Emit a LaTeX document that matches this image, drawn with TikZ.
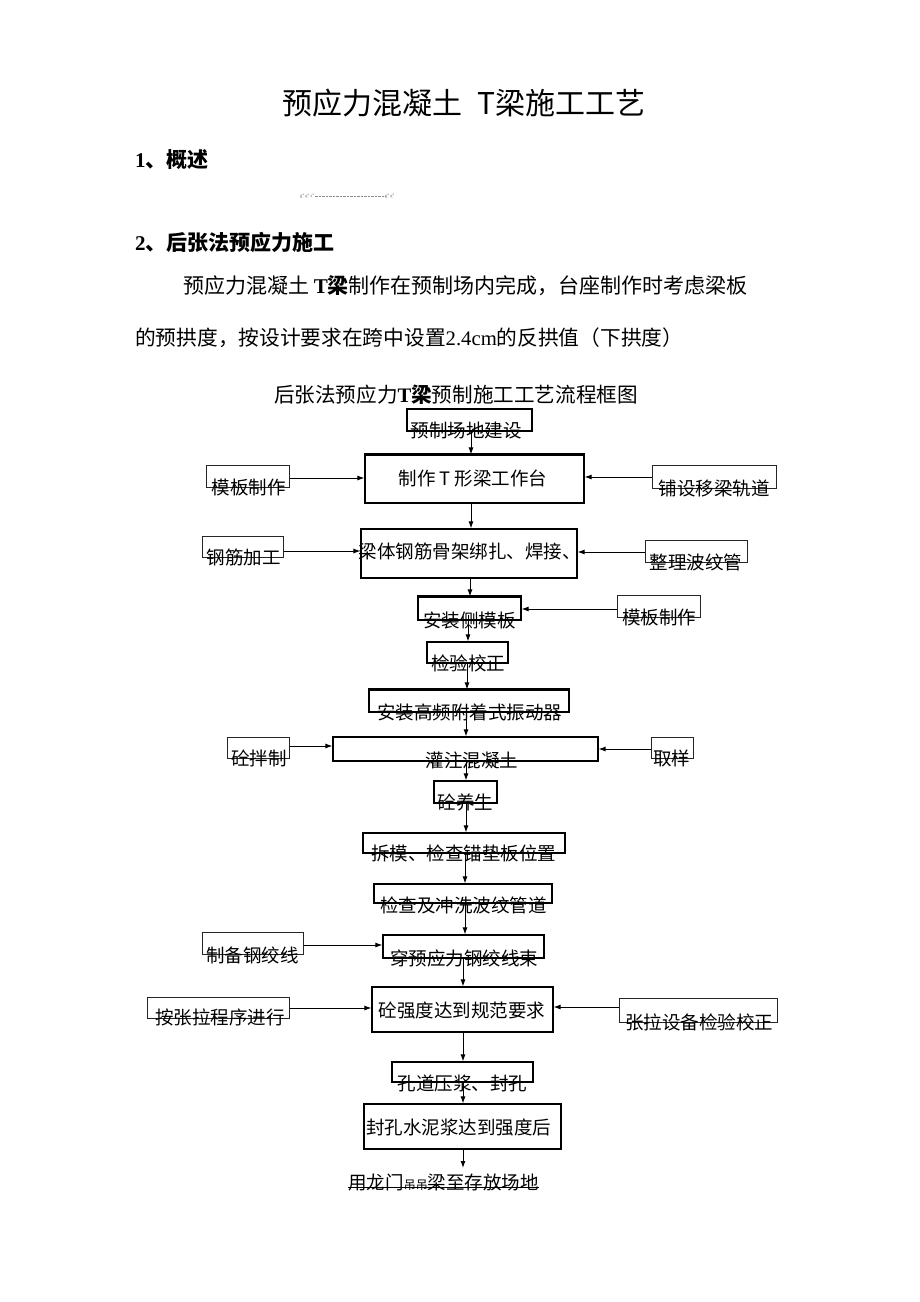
\documentclass[tikz,border=0pt]{standalone}
\usepackage{fontspec}
\setmainfont{Noto Sans CJK SC}
\newfontfamily\tnr{Liberation Serif}
\usetikzlibrary{arrows.meta}
\newcommand\fsz[1]{\fontsize{#1}{#1}\selectfont}
\begin{document}
\begin{tikzpicture}[x=1pt,y=-1pt,
  box/.style={draw=black, line width=1.1pt, inner sep=0pt},
  side/.style={draw=black!85, line width=1pt, inner sep=0pt},
  lbl/.style={inner sep=0pt, font=\fsz{18.5pt}},
  txt/.style={inner sep=0pt, anchor=west},
  arr/.style={-{Latex[length=7pt,width=5pt]}, line width=1pt},
  thick top/.style={line width=2pt}]
\useasboundingbox[fill=white] (0,0) rectangle (920,1302);

% ---------- document text ----------
\node[inner sep=0pt, font=\fsz{30pt}] (title) at (464,103) {预应力混凝土\hspace{0.5em}T梁施工工艺};
\node[txt, font=\fsz{21pt}\bfseries] (h1) at (135,160) {{\tnr\bfseries 1}、概述};
\node[txt, font=\fsz{4pt}, text=black!55] (tiny1) at (300,196) {g{\textsuperscript{a}}\,q{\textsuperscript{a}}\,s{\textsuperscript{a}}};
\node[txt, font=\fsz{4pt}, text=black!55] (tiny2) at (385,196) {g{\textsuperscript{a}}\,q{\textsuperscript{a}}};
\draw[black!45, line width=0.4pt, densely dotted] (tiny1.east) -- (tiny2.west);
\node[txt, font=\fsz{21pt}\bfseries] (h2) at (135,242) {{\tnr\bfseries 2}、后张法预应力施工};
\node[txt, font=\fsz{21pt}] (p1) at (183,286) {预应力混凝土 {\tnr\bfseries T}\textbf{梁}制作在预制场内完成，台座制作时考虑梁板};
\node[txt, font=\fsz{20.7pt}] (p2) at (135,338) {的预拱度，按设计要求在跨中设置{\tnr 2.4cm}的反拱值（下拱度）};
\node[inner sep=0pt, font=\fsz{20.6pt}] (ftitle) at (456,395) {后张法预应力{\tnr\bfseries T}\textbf{梁}预制施工工艺流程框图};

% ---------- main boxes ----------
\node[box, minimum width=125pt, minimum height=22pt] (b1) at (469.5,420) {};
\node[box, minimum width=219pt, minimum height=48pt] (b2) at (474.5,479) {};
\node[box, minimum width=216pt, minimum height=49pt] (b3) at (469,553.5) {};
\node[box, minimum width=103pt, minimum height=23pt] (b4) at (469.5,608.5) {};
\node[box, minimum width=81pt, minimum height=21pt] (b5) at (467.5,652.5) {};
\node[box, minimum width=200pt, minimum height=22pt] (b6) at (469,701) {};
\node[box, minimum width=265pt, minimum height=24pt] (b7) at (465.5,749) {};
\node[box, minimum width=63pt, minimum height=22pt] (b8) at (465.5,792) {};
\node[box, minimum width=202pt, minimum height=20pt] (b9) at (464,843) {};
\node[box, minimum width=178pt, minimum height=19pt] (b10) at (463,893.5) {};
\node[box, minimum width=161pt, minimum height=23pt] (b11) at (463.5,946.5) {};
\node[box, minimum width=181pt, minimum height=45pt] (b12) at (462.5,1009.5) {};
\node[box, minimum width=141pt, minimum height=20pt] (b13) at (462.5,1072) {};
\node[box, minimum width=197pt, minimum height=45pt] (b14) at (462.5,1126.5) {};
\draw[thick top] (b2.north west) -- (b2.north east);
\draw[thick top] (b4.north west) -- (b4.north east);
\draw[thick top] (b6.north west) -- (b6.north east);
\draw[line width=1.8pt] (b6.north east) -- (b6.south east);

% ---------- side boxes ----------
\node[side, minimum width=83pt, minimum height=22pt] (l1) at (247.5,476) {};
\node[side, minimum width=124pt, minimum height=23pt] (r1) at (714,476.5) {};
\node[side, minimum width=81pt, minimum height=21pt] (l2) at (242.5,546.5) {};
\node[side, minimum width=102pt, minimum height=22pt] (r2) at (696,551) {};
\node[side, minimum width=83pt, minimum height=22pt] (r3) at (658.5,606) {};
\node[side, minimum width=62pt, minimum height=21pt] (l4) at (258,747.5) {};
\node[side, minimum width=42pt, minimum height=21pt] (r4) at (672,747.5) {};
\node[side, minimum width=101pt, minimum height=22pt] (l5) at (252.5,943) {};
\node[side, minimum width=142pt, minimum height=21pt] (l6) at (218,1007.5) {};
\node[side, minimum width=158pt, minimum height=24pt] (r6) at (698,1010) {};

% ---------- labels ----------
\node[lbl] (t1) at (466,430) {预制场地建设};
\node[lbl] (t2) at (473,478) {制作 T 形梁工作台};
\node[lbl] (t3) at (469.5,551) {梁体钢筋骨架绑扎、焊接、};
\node[lbl] (t4) at (469.5,620) {安装侧模板};
\node[lbl] (t5) at (468,663) {检验校正};
\node[lbl] (t6) at (469.5,712) {安装高频附着式振动器};
\node[lbl] (t7) at (472,760) {灌注混凝土};
\node[lbl] (t8) at (465.5,802) {砼养生};
\node[lbl] (t9) at (463.5,853) {拆模、检查锚垫板位置};
\node[lbl] (t10) at (463.5,905) {检查及冲洗波纹管道};
\node[lbl] (t11) at (464,958) {穿预应力钢绞线束};
\node[lbl] (t12) at (462,1010) {砼强度达到规范要求};
\node[lbl] (t13) at (462.5,1083) {孔道压浆、封孔};
\node[lbl] (t14) at (458.5,1127) {封孔水泥浆达到强度后};
\node[lbl] (fin) at (443.5,1182) {用龙门{\fsz{12pt}吊吊}梁至存放场地};
\draw[line width=0.8pt] (fin.west |- 0,1187) -- (fin.east |- 0,1187);

\node[lbl] (tl1) at (248.5,487) {模板制作};
\node[lbl] (tr1) at (714,488) {铺设移梁轨道};
\node[lbl] (tl2) at (243.5,557) {钢筋加工};
\node[lbl] (tr2) at (696,562) {整理波纹管};
\node[lbl] (tr3) at (659,617) {模板制作};
\node[lbl] (tl4) at (259,758) {砼拌制};
\node[lbl] (tr4) at (671.5,758) {取样};
\node[lbl] (tl5) at (252.5,955) {制备钢绞线};
\node[lbl] (tl6) at (220,1017) {按张拉程序进行};
\node[lbl] (tr6) at (699,1022) {张拉设备检验校正};

% ---------- vertical arrows ----------
\coordinate (x471) at (471,0);
\coordinate (x470) at (470,0);
\coordinate (x468) at (468,0);
\coordinate (x467) at (467,0);
\coordinate (x466) at (466,0);
\coordinate (x465) at (465,0);
\coordinate (x463) at (463,0);
\coordinate (finTop) at (463,1168);
\draw[arr] (b1.south -| x471) -- (b2.north -| x471);
\draw[arr] (b2.south -| x471) -- (b3.north -| x471);
\draw[arr] (b3.south -| x470) -- (b4.north -| x470);
\draw[arr] (b4.south -| x468) -- (b5.north -| x468);
\draw[arr] (b5.south -| x467) -- (b6.north -| x467);
\draw[arr] (b6.south -| x466) -- (b7.north -| x466);
\draw[arr] (b7.south -| x466) -- (b8.north -| x466);
\draw[arr] (b8.south -| x466) -- (b9.north -| x466);
\draw[arr] (b9.south -| x465) -- (b10.north -| x465);
\draw[arr] (b10.south -| x465) -- (b11.north -| x465);
\draw[arr] (b11.south -| x463) -- (b12.north -| x463);
\draw[arr] (b12.south -| x463) -- (b13.north -| x463);
\draw[arr] (b13.south -| x463) -- (b14.north -| x463);
\draw[arr] (b14.south -| x463) -- (finTop);

% ---------- horizontal arrows ----------
\draw[arr] ([yshift=-2pt]l1.east) -- ([yshift=-2pt]l1.east -| b2.west);
\draw[arr] ([yshift=-0.5pt]r1.west) -- ([yshift=-0.5pt]r1.west -| b2.east);
\draw[arr] ([yshift=-4.5pt]l2.east) -- ([yshift=-4.5pt]l2.east -| b3.west);
\draw[arr] ([yshift=-1pt]r2.west) -- ([yshift=-1pt]r2.west -| b3.east);
\draw[arr] ([yshift=-3pt]r3.west) -- ([yshift=-3pt]r3.west -| b4.east);
\draw[arr] ([yshift=1.5pt]l4.east) -- ([yshift=1.5pt]l4.east -| b7.west);
\draw[arr] ([yshift=-1.5pt]r4.west) -- ([yshift=-1.5pt]r4.west -| b7.east);
\draw[arr] ([yshift=-2pt]l5.east) -- ([yshift=-2pt]l5.east -| b11.west);
\draw[arr] ([yshift=-0.5pt]l6.east) -- ([yshift=-0.5pt]l6.east -| b12.west);
\draw[arr] ([yshift=3pt]r6.west) -- ([yshift=3pt]r6.west -| b12.east);
\end{tikzpicture}
\end{document}
